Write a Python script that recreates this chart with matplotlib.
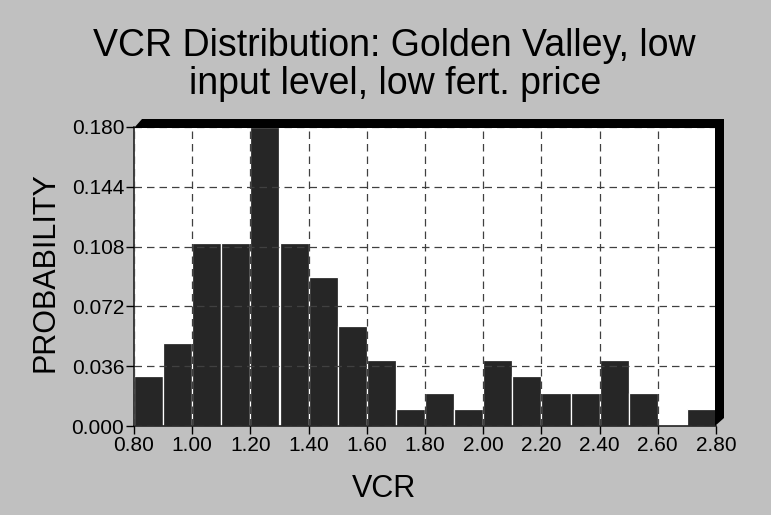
import matplotlib.pyplot as plt
from matplotlib.patches import Polygon
import numpy as np

# histogram bins (left edges) and probabilities
bin_left = [0.80, 0.90, 1.00, 1.10, 1.20, 1.30, 1.40, 1.50, 1.60, 1.70,
            1.80, 1.90, 2.00, 2.10, 2.20, 2.30, 2.40, 2.50, 2.60, 2.70]
prob = [0.03, 0.05, 0.11, 0.11, 0.18, 0.11, 0.09, 0.06, 0.04, 0.01,
        0.02, 0.01, 0.04, 0.03, 0.02, 0.02, 0.04, 0.02, 0.00, 0.01]
x_ticks = [0.80, 1.00, 1.20, 1.40, 1.60, 1.80, 2.00, 2.20, 2.40, 2.60, 2.80]
y_ticks = [0.000, 0.036, 0.072, 0.108, 0.144, 0.180]

plt.rcParams['font.family'] = ['Liberation Sans', 'DejaVu Sans']

W, H = 771, 515
fig = plt.figure(figsize=(W / 100, H / 100), dpi=100, facecolor='#c0c0c0')
x0, x1, y0, y1 = 134, 716, 127, 426
ax = fig.add_axes([x0 / W, 1 - y1 / H, (x1 - x0) / W, (y1 - y0) / H])
ax.set_facecolor('white')

# 3d shadow frame on top and right (slight overlap hides edge gridlines)
dx = 8 / (x1 - x0)
dy = 8 / (y1 - y0)
ox = 1 / (x1 - x0)
oy = 1 / (y1 - y0)
shadow = Polygon([(0, 1 - oy), (dx, 1 + dy), (1 + dx, 1 + dy), (1 + dx, dy),
                  (1 - ox, 0), (1 - ox, 1 - oy)],
                 closed=True, transform=ax.transAxes, facecolor='black',
                 edgecolor='none', clip_on=False, zorder=5)
ax.add_patch(shadow)

ax.bar(bin_left, prob, width=0.1, align='edge', color='#262626',
       edgecolor='white', linewidth=0.9, zorder=2)

ax.set_xlim(0.80, 2.80)
ax.set_ylim(0.0, 0.180)
ax.set_xticks(x_ticks)
ax.set_yticks(y_ticks)
ax.set_xticklabels(['%.2f' % v for v in x_ticks])
ax.set_yticklabels(['%.3f' % v for v in y_ticks])
ax.tick_params(direction='out', length=6, width=1, colors='black', labelsize=15, pad=1)

ax.grid(True, linestyle=(0, (6, 4)), color='#404040', linewidth=0.9, zorder=3)
ax.set_axisbelow(False)

for s in ['top', 'right']:
    ax.spines[s].set_visible(False)
for s in ['left', 'bottom']:
    ax.spines[s].set_color('#222222')
    ax.spines[s].set_linewidth(1.2)

# axis labels sit a bit off-centre in the original
ax.set_xlabel('VCR', fontsize=22, labelpad=14)
ax.xaxis.label.set_position(((384 - x0) / (x1 - x0), 0))
ax.set_ylabel('PROBABILITY', fontsize=22, labelpad=8)
ax.yaxis.label.set_position((0, (426 - 272) / (y1 - y0)))

fig.text(0.512, 1 - 65 / H, 'VCR Distribution: Golden Valley, low\ninput level, low fert. price',
         ha='center', va='center', fontsize=27, linespacing=1.08)

fig.savefig('out.png', dpi=100, facecolor=fig.get_facecolor())
